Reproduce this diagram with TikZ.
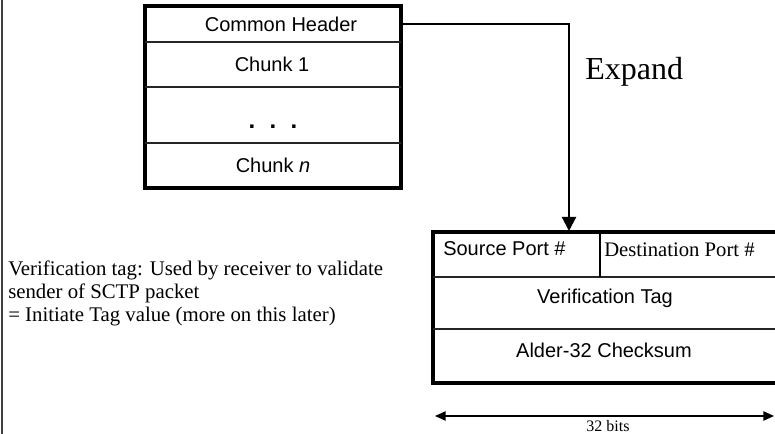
\documentclass[tikz,border=0pt]{standalone}
\usepackage{fontspec}
\setmainfont{Liberation Serif}
\newfontfamily\arial{Liberation Sans}
\usetikzlibrary{arrows.meta}
\begin{document}
\begin{tikzpicture}[x=0.75pt,y=-0.75pt]
\tikzset{
  sans/.style={font=\arial\fontsize{15}{18}\selectfont, inner sep=0pt},
  serifbig/.style={font=\fontsize{24}{28}\selectfont, inner sep=0pt},
  serifnote/.style={font=\fontsize{15.6}{17.25}\selectfont, inner sep=0pt, align=left},
  serifsmall/.style={font=\fontsize{15.5}{18}\selectfont, inner sep=0pt},
  frame/.style={draw, line width=2.6pt},
  rowline/.style={draw=black!85, line width=1pt},
  cellrow/.style={minimum width=192pt, inner sep=0pt},
  conn/.style={line width=1.6pt, -{Triangle[length=10.5pt,width=10.5pt]}},
  span/.style={line width=1.1pt, {Triangle[length=8pt,width=7pt]}-{Triangle[length=8pt,width=7pt]}},
}
\clip (0,0) rectangle (775,434);

% left margin rule
\draw[line width=1.5pt, black!75] (2,0) -- (2,434);

% SCTP packet: common header followed by chunks
\node[frame, minimum width=192pt, minimum height=136.5pt, inner sep=0pt] (pkt) at (273,97) {};
\draw[rowline] (145,42) -- (401,42);
\draw[rowline] (145,87) -- (401,87);
\draw[rowline] (145,143) -- (401,143);
\node[cellrow, minimum height=27pt] (hdr) at (273,24) {};
\node[sans] (hdrtxt) at (281,24) {Common Header};
\node[sans] (chunk1) at (272,64) {Chunk 1};
\node[font=\arial\bfseries\fontsize{18}{20}\selectfont, inner sep=0pt, anchor=base] (dots) at (273,129)
  {.\hspace{10.7pt}.\hspace{10.7pt}.};
\node[sans] (chunkn) at (273,165) {Chunk \textit{n}};

% expanded common header
\node[frame, minimum width=267.75pt, minimum height=113.25pt, inner sep=0pt] (hdrbox) at (611.5,307.5) {};
\draw[rowline] (433,277) -- (790,277);
\draw[rowline] (433,329) -- (790,329);
\draw[line width=0.8pt] (600,232) -- (600,277);
\node[sans, anchor=base west] (srcport) at (443,256) {Source Port \#};
\node[serifsmall, anchor=base west] (dstport) at (604,256.5) {Destination Port \#};
\node[sans] (vtag) at (605,298) {Verification Tag};
\node[sans] (cksum) at (604,350) {Alder-32 Checksum};

% expansion connector
\coordinate (exptip) at (569,231);
\draw[conn] (hdr.east) -| (exptip);
\node[serifbig, anchor=base west] (expand) at (585,80) {Expand};

% field width
\coordinate (spanl) at (435,416);
\coordinate (spanr) at (774,416);
\draw[span] (spanl) -- (spanr);
\node[font=\fontsize{12}{14}\selectfont, inner sep=0pt] (bits) at (608,426) {32 bits};

% note
\node[serifnote, anchor=north west] (note) at (8,261)
  {Verification tag: Used by receiver to validate\\
   sender of SCTP packet\\
   = Initiate Tag value (more on this later)};
\end{tikzpicture}
\end{document}
